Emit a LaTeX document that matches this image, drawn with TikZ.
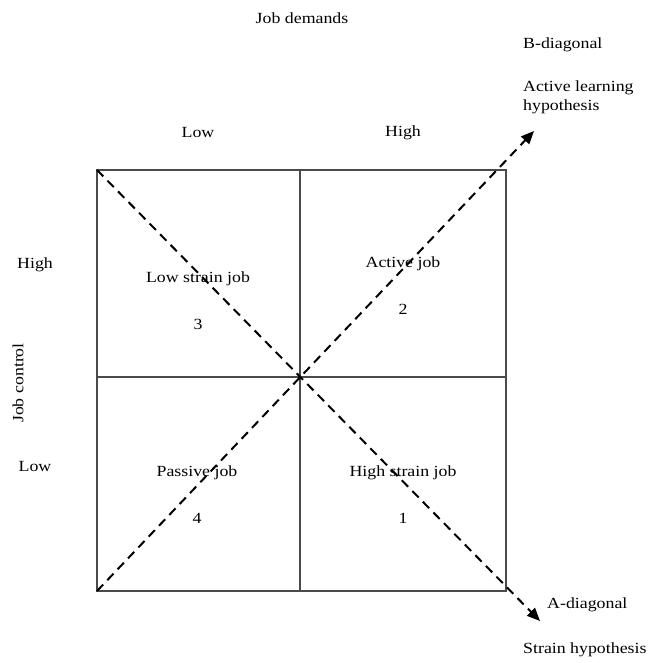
\documentclass[tikz,border=0pt]{standalone}
\usepackage{fontspec}
\setmainfont{Liberation Serif}[FakeStretch=1.15]
\usetikzlibrary{arrows.meta,positioning}
\definecolor{gridline}{HTML}{4A4A4A}

\begin{document}
\begin{tikzpicture}[x=1pt, y=-1pt,
    lbl/.style={font=\fontsize{15.5}{19}\selectfont, inner sep=0pt},
    side/.style={lbl, anchor=west},
    frame/.style={draw=gridline, line width=1.6pt},
    diag/.style={dash pattern=on 9pt off 6pt, line width=2pt, -{Triangle[length=13pt, width=11pt]}}
  ]
  \useasboundingbox (0,0) rectangle (653,663);
  % the 2x2 grid
  \coordinate (tl) at (97,170);
  \coordinate (br) at (506,591);
  \coordinate (bl) at (97,591);
  \coordinate (mt) at (300,170);
  \coordinate (mb) at (300,591);
  \coordinate (ml) at (97,377);
  \coordinate (mr) at (506,377);
  \draw[frame] (tl) rectangle (br);
  \draw[frame] (mt) -- (mb);
  \draw[frame] (ml) -- (mr);
  % axis labels
  \node[lbl] (demands) at (302,18) {Job demands};
  \node[lbl] (dlow) at (198,133) {Low};
  \node[lbl] (dhigh) at (403,133) {High};
  \node[lbl, rotate=90] (control) at (18,383) {Job control};
  \node[lbl] (chigh) at (35,265) {High};
  \node[lbl] (clow) at (35,466) {Low};
  % quadrants
  \node[lbl] (lowstrain) at (198,279) {Low strain job};
  \node[lbl, below=33pt of lowstrain] (q3) {3};
  \node[lbl] (active) at (403,264) {Active job};
  \node[lbl, below=33pt of active] (q2) {2};
  \node[lbl] (passive) at (197,473) {Passive job};
  \node[lbl, below=33pt of passive] (q4) {4};
  \node[lbl] (highstrain) at (403,473) {High strain job};
  \node[lbl, below=33pt of highstrain] (q1) {1};
  % diagonals
  \coordinate (btip) at (534,131);
  \coordinate (atip) at (540,621);
  \draw[diag] (bl) -- (btip);
  \draw[diag] (tl) -- (atip);
  \node[side] (bdiag) at (523,45) {B-diagonal};
  \node[side, align=left] (bhyp) at (523,97) {Active learning\\hypothesis};
  \node[side] (adiag) at (547,605) {A-diagonal};
  \node[side] (ahyp) at (523,650) {Strain hypothesis};
\end{tikzpicture}
\end{document}
